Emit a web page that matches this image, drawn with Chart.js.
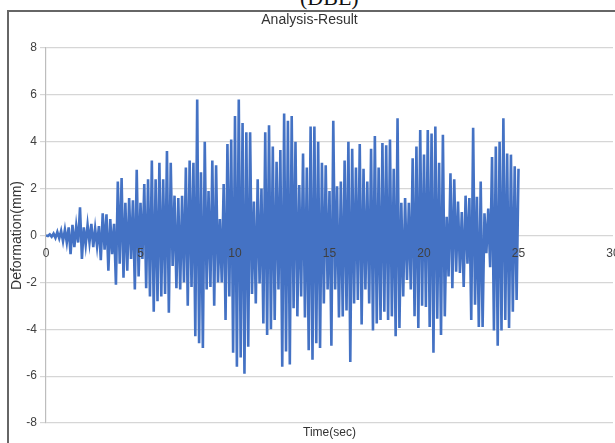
<!DOCTYPE html>
<html>
<head>
<meta charset="utf-8">
<script src="https://cdn.jsdelivr.net/npm/chart.js@4/dist/chart.umd.min.js"></script>
<style>
  html, body { margin: 0; padding: 0; background: #ffffff; overflow: hidden; }
  #wrap { position: relative; width: 615px; height: 443px; overflow: hidden; }
  #dbe { position: absolute; left: 300px; top: -13px; font-family: "Liberation Serif", "Times New Roman", serif; font-size: 22px; line-height: 22px; color: #111; white-space: nowrap; }
  #frame { position: absolute; left: 7px; top: 10px; width: 700px; height: 600px; border-left: 2px solid #666666; border-top: 2px solid #666666; }
  canvas { position: absolute; left: 0; top: 0; }
</style>
</head>
<body>
<div id="wrap">
  <div id="dbe">(DBE)</div>
  <div id="frame"></div>
  <canvas id="c" width="615" height="443"></canvas>
</div>
<script>
// Sampling step of the record (sec)
const timeStep = 0.1;
// Deformation (mm), one row per second (0 s .. 25 s)
const deformation = [
  0, -0.02, 0.05, -0.05, 0.08, -0.1, 0.15, -0.12, 0.2, -0.25,
  0.25, -0.3, 0.35, -0.8, 0.45, -0.5, 0.4, -0.3, 1.2, -1.0,
  0.35, -0.4, 0.45, -0.3, 0.5, -0.5, 0.3, -0.45, 0.4, -1.05,
  0.95, -0.6, 0.9, -1.5, 0.7, -0.8, 0.5, -2.1, 2.3, -1.2,
  2.45, -1.8, 1.4, -1.5, 1.6, -1.0, 1.5, -2.3, 2.8, -1.75,
  1.4, -1.0, 2.2, -2.25, 2.4, -2.6, 3.2, -3.25, 2.4, -2.8,
  3.1, -2.6, 2.4, -2.5, 3.6, -3.3, 3.1, -1.3, 1.7, -2.25,
  1.6, -2.3, 1.7, -2.0, 2.9, -3.0, 3.2, -2.2, 3.1, -4.3,
  5.8, -4.6, 2.7, -4.8, 4.0, -2.3, 1.9, -2.2, 3.2, -3.0,
  3.0, -2.0, 0.7, -2.0, 2.2, -3.6, 3.9, -2.6, 4.1, -5.0,
  5.1, -5.6, 5.8, -5.2, 4.8, -5.9, 4.4, -4.75, 4.4, -2.5,
  1.45, -2.9, 2.4, -2.05, 2.0, -3.75, 4.4, -4.25, 4.7, -4.0,
  3.8, -3.6, 3.15, -2.3, 3.65, -5.6, 5.2, -4.95, 4.9, -5.5,
  5.1, -3.1, 4.0, -3.45, 2.15, -2.6, 3.5, -3.5, 2.9, -4.9,
  4.65, -5.3, 4.65, -4.6, 4.0, -4.8, 3.1, -2.9, 3.0, -2.3,
  1.9, -4.7, 4.9, -2.3, 2.1, -3.5, 2.3, -3.45, 3.2, -3.2,
  4.0, -5.4, 3.7, -2.9, 2.9, -2.75, 3.9, -3.8, 2.85, -2.3,
  2.3, -2.9, 3.7, -4.05, 4.25, -3.75, 2.9, -3.6, 3.95, -3.25,
  3.85, -3.6, 4.1, -3.45, 2.85, -4.3, 5.0, -3.95, 1.4, -2.6,
  1.6, -1.9, 1.4, -2.3, 3.3, -3.45, 3.8, -3.95, 4.5, -3.0,
  3.45, -3.05, 4.5, -3.9, 4.35, -5.0, 4.65, -3.55, 3.1, -4.25,
  4.3, -3.45, 0.8, -1.75, 2.65, -2.25, 2.4, -1.55, 1.45, -1.6,
  1.0, -2.2, 1.7, -1.2, 1.6, -3.6, 4.6, -2.95, 1.65, -3.9,
  2.3, -3.9, 0.95, -0.75, 1.15, -1.35, 3.35, -4.05, 3.8, -4.7,
  4.0, -4.05, 5.0, -3.6, 3.5, -3.95, 3.45, -3.25, 2.95, -2.75,
  2.85
];
const xTicks = [0, 5, 10, 15, 20, 25, 30];
const yTicks = [-8, -6, -4, -2, 0, 2, 4, 6, 8];
const chartTitle = 'Analysis-Result';
const xTitle = 'Time(sec)';
const yTitle = 'Deformation(mm)';

const points = deformation.map((v, i) => ({ x: Math.round(i * timeStep * 10) / 10, y: v }));
const FONT = '"Liberation Sans", Arial, sans-serif';

new Chart(document.getElementById('c'), {
  type: 'line',
  data: {
    datasets: [{
      data: points,
      borderColor: 'rgb(68,114,196)',
      borderWidth: 2.6,
      pointRadius: 0,
      tension: 0,
      fill: false
    }]
  },
  options: {
    responsive: false,
    animation: false,
    events: [],
    layout: { padding: { left: 6, right: 2, top: 0, bottom: 0 } },
    plugins: {
      legend: { display: false },
      tooltip: { enabled: false },
      title: {
        display: true,
        text: chartTitle,
        color: '#333333',
        font: { family: FONT, size: 14, weight: 'normal' },
        padding: { top: 11.6, bottom: 19.6 }
      }
    },
    scales: {
      x: {
        type: 'linear',
        position: { y: 0 },
        min: xTicks[0],
        max: xTicks[xTicks.length - 1],
        afterBuildTicks: (s) => { s.ticks = xTicks.map(v => ({ value: v })); },
        ticks: { z: 1, padding: 3, color: '#404040', font: { family: FONT, size: 12 }, maxRotation: 0, autoSkip: false },
        grid: { display: false },
        border: { display: false },
        afterFit: (s) => { s.paddingLeft = 0; s.paddingRight = 0; }
      },
      xTitle: {
        type: 'linear',
        axis: 'x',
        position: 'bottom',
        ticks: { display: false },
        grid: { display: false },
        border: { display: false },
        title: { display: true, text: xTitle, color: '#333333', font: { family: FONT, size: 12 }, padding: { top: 0, bottom: 3 } },
        afterFit: (s) => { s.height = 20; s.paddingLeft = 0; s.paddingRight = 0; }
      },
      y: {
        min: yTicks[0],
        max: yTicks[yTicks.length - 1],
        afterBuildTicks: (s) => { s.ticks = yTicks.map(v => ({ value: v })); },
        ticks: { padding: 3, color: '#404040', font: { family: FONT, size: 12 } },
        grid: { color: '#d6d6d6', lineWidth: 1.2, tickLength: 6 },
        border: { color: '#bdbdbd', width: 1.2 },
        title: { display: true, text: yTitle, color: '#333333', font: { family: FONT, size: 14 }, padding: { top: 3, bottom: 0 } },
        afterFit: (s) => { s.width = 40; }
      }
    }
  }
});
</script>
</body>
</html>
